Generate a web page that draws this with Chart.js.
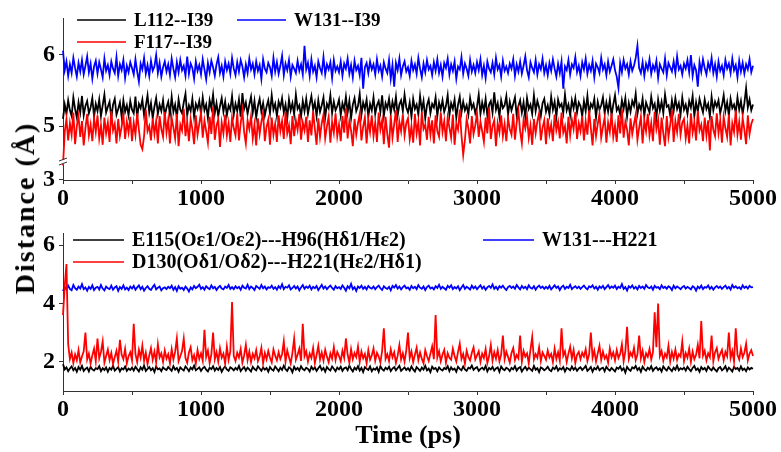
<!DOCTYPE html>
<html>
<head>
<meta charset="utf-8">
<script src="https://cdn.jsdelivr.net/npm/chart.js@4.4.1/dist/chart.umd.min.js"></script>
<style>
  html, body { margin: 0; padding: 0; background: #fff; }
  #wrap { position: relative; width: 781px; height: 452px; overflow: hidden; }
  .panel { position: absolute; left: 0; width: 781px; }
  #topPanel { top: 0; height: 215px; }
  #bottomPanel { top: 215px; height: 237px; }
  #yTitle {
    position: absolute; left: 25px; top: 208px;
    transform: translate(-50%, -50%) rotate(-90deg);
    font: bold 28px 'Liberation Serif', 'Times New Roman', serif;
    letter-spacing: 2px;
    white-space: nowrap; color: #000;
  }
</style>
</head>
<body>
<div id="wrap">
  <div class="panel" id="topPanel"><canvas id="topChart"></canvas></div>
  <div class="panel" id="bottomPanel"><canvas id="bottomChart"></canvas></div>
  <div id="yTitle">Distance (Å)</div>
</div>
<script>
const FONT = "'Liberation Serif', 'Times New Roman', serif";
const STEP_PS = 12.5;

const X_TICKS = [0, 500, 1000, 1500, 2000, 2500, 3000, 3500, 4000, 4500, 5000];
const X_TICK_LABELS = [0, 1000, 2000, 3000, 4000, 5000];
const TOP_Y_TICKS = [5, 6];
const TOP_Y_TICKS_LOW = [3];
const BOTTOM_Y_TICKS = [2, 4, 6];

const TOP_LABELS = ['L112--I39', 'F117--I39', 'W131--I39'];
const BOTTOM_LABELS = ['E115(Oε1/Oε2)---H96(Hδ1/Hε2)', 'D130(Oδ1/Oδ2)---H221(Hε2/Hδ1)', 'W131---H221'];

// top panel, one value every 12.5 ps
const L112_I39 = [
  5.10, 5.30, 5.17, 5.36, 5.22, 5.14, 5.40, 5.24, 5.12, 5.33, 5.19, 5.42, 5.15, 5.28, 5.35, 5.18, 5.26, 5.39, 5.13, 5.31,
  5.21, 5.37, 5.14, 5.29, 5.44, 5.19, 5.27, 5.34, 5.11, 5.30, 5.38, 5.16, 5.24, 5.33, 5.13, 5.36, 5.20, 5.29, 5.15, 5.35,
  5.23, 5.18, 5.41, 5.12, 5.31, 5.25, 5.37, 5.15, 5.28, 5.43, 5.19, 5.32, 5.11, 5.27, 5.39, 5.17, 5.30, 5.21, 5.36, 5.14,
  5.26, 5.34, 5.16, 5.41, 5.20, 5.30, 5.12, 5.37, 5.23, 5.18, 5.33, 5.45, 5.15, 5.29, 5.21, 5.38, 5.13, 5.31, 5.24, 5.35,
  5.17, 5.40, 5.22, 5.30, 5.11, 5.36, 5.25, 5.44, 5.18, 5.32, 5.14, 5.28, 5.39, 5.20, 5.34, 5.15, 5.29, 5.23, 5.42, 5.16,
  5.31, 5.21, 5.37, 5.13, 5.46, 5.24, 5.33, 5.17, 5.30, 5.41, 5.19, 5.35, 5.12, 5.28, 5.38, 5.20, 5.32, 5.15, 5.27, 5.36,
  5.18, 5.43, 5.23, 5.31, 5.14, 5.34, 5.26, 5.39, 5.19, 5.30, 5.11, 5.37, 5.22, 5.32, 5.16, 5.44, 5.24, 5.29, 5.13, 5.35,
  5.21, 5.38, 5.17, 5.30, 5.42, 5.23, 5.33, 5.14, 5.36, 5.20, 5.29, 5.40, 5.12, 5.31, 5.25, 5.43, 5.18, 5.34, 5.22, 5.28,
  5.37, 5.15, 5.32, 5.23, 5.41, 5.19, 5.35, 5.11, 5.30, 5.39, 5.21, 5.28, 5.45, 5.16, 5.33, 5.24, 5.37, 5.13, 5.31, 5.22,
  5.40, 5.17, 5.29, 5.35, 5.20, 5.43, 5.14, 5.32, 5.25, 5.38, 5.18, 5.34, 5.23, 5.41, 5.15, 5.30, 5.36, 5.21, 5.44, 5.26,
  5.19, 5.33, 5.13, 5.38, 5.24, 5.30, 5.16, 5.42, 5.22, 5.35, 5.11, 5.29, 5.37, 5.18, 5.31, 5.26, 5.40, 5.14, 5.33, 5.23,
  5.36, 5.20, 5.28, 5.43, 5.15, 5.32, 5.24, 5.37, 5.12, 5.30, 5.41, 5.19, 5.34, 5.22, 5.29, 5.16, 5.39, 5.25, 5.31, 5.18,
  5.27, 5.44, 5.17, 5.33, 5.21, 5.38, 5.14, 5.30, 5.35, 5.19, 5.47, 5.23, 5.32, 5.13, 5.36, 5.25, 5.29, 5.42, 5.16, 5.34,
  5.22, 5.31, 5.40, 5.15, 5.28, 5.36, 5.19, 5.33, 5.12, 5.39, 5.24, 5.30, 5.17, 5.43, 5.21, 5.35, 5.26, 5.14, 5.32, 5.38,
  5.20, 5.29, 5.16, 5.41, 5.23, 5.34, 5.13, 5.37, 5.27, 5.31, 5.18, 5.44, 5.22, 5.30, 5.15, 5.36, 5.25, 5.39, 5.19, 5.33,
  5.28, 5.14, 5.35, 5.21, 5.42, 5.17, 5.31, 5.26, 5.38, 5.12, 5.34, 5.23, 5.29, 5.40, 5.18, 5.33, 5.20, 5.37, 5.15, 5.30,
  5.43, 5.22, 5.27, 5.16, 5.36, 5.24, 5.39, 5.13, 5.32, 5.20, 5.35, 5.28, 5.45, 5.17, 5.30, 5.23, 5.38, 5.14, 5.33, 5.26,
  5.19, 5.41, 5.25, 5.31, 5.12, 5.37, 5.22, 5.34, 5.18, 5.44, 5.27, 5.29, 5.15, 5.36, 5.21, 5.39, 5.24, 5.32, 5.16, 5.40,
  5.23, 5.30, 5.17, 5.35, 5.26, 5.42, 5.14, 5.33, 5.20, 5.38, 5.28, 5.19, 5.37, 5.24, 5.31, 5.13, 5.41, 5.22, 5.34, 5.27,
  5.36, 5.18, 5.29, 5.43, 5.21, 5.33, 5.15, 5.38, 5.25, 5.30, 5.19, 5.40, 5.23, 5.35, 5.17, 5.32, 5.53, 5.26, 5.37, 5.22,
  5.30
];
const F117_I39 = [
  4.45, 4.92, 5.10, 4.80, 5.04, 4.88, 5.19, 4.75, 5.00, 5.14, 4.85, 5.07, 4.73, 4.97, 5.17, 4.87, 5.02, 4.79, 5.11, 4.92,
  5.15, 4.83, 5.01, 4.74, 5.12, 4.90, 5.05, 4.78, 5.21, 4.94, 5.03, 4.76, 5.10, 4.86, 4.99, 5.16, 4.82, 5.06, 4.91, 5.13,
  4.79, 5.05, 4.88, 5.18, 4.95, 4.74, 4.68, 4.86, 5.23, 4.93, 5.00, 4.80, 5.11, 4.89, 5.07, 4.76, 5.14, 4.96, 4.85, 5.20,
  4.91, 5.09, 4.76, 5.12, 4.98, 4.83, 5.17, 4.72, 5.02, 4.94, 5.24, 4.86, 5.06, 4.79, 5.10, 4.96, 4.75, 5.15, 4.88, 5.03,
  5.19, 4.84, 5.08, 4.93, 4.77, 5.13, 4.89, 5.27, 4.81, 5.01, 5.09, 4.71, 5.05, 4.90, 5.16, 4.87, 5.04, 4.78, 5.12, 4.97,
  4.87, 5.18, 4.80, 5.04, 5.22, 4.92, 4.76, 5.08, 4.96, 5.14, 4.83, 5.02, 4.73, 5.11, 4.89, 5.06, 5.19, 4.79, 4.99, 5.09,
  4.74, 5.12, 4.88, 5.03, 4.78, 5.15, 4.93, 5.07, 4.82, 5.20, 4.90, 5.01, 4.75, 5.14, 4.86, 5.08, 4.95, 5.17, 4.81, 5.05,
  4.94, 5.13, 4.78, 5.08, 4.87, 5.21, 4.96, 4.74, 5.11, 4.85, 5.04, 5.16, 4.83, 5.00, 5.13, 4.77, 5.06, 4.91, 5.18, 4.86,
  5.02, 4.79, 5.14, 4.91, 5.25, 4.83, 5.07, 4.94, 4.72, 5.10, 4.88, 5.04, 5.17, 4.80, 4.99, 5.12, 4.76, 5.09, 4.92, 5.15,
  4.86, 5.05, 4.78, 5.19, 4.95, 5.08, 4.75, 5.13, 4.89, 4.70, 5.15, 4.84, 5.03, 5.22, 4.78, 5.06, 4.93, 5.16, 4.87, 5.04,
  5.11, 4.82, 5.00, 4.77, 5.17, 4.90, 5.06, 4.73, 5.20, 4.96, 5.02, 4.81, 5.13, 4.88, 5.08, 4.76, 5.15, 4.93, 4.85, 5.19,
  4.92, 5.07, 4.79, 5.12, 4.98, 4.84, 5.16, 4.74, 5.03, 4.95, 5.23, 4.87, 4.60, 4.81, 5.10, 4.97, 4.76, 5.14, 4.89, 5.01,
  5.18, 4.85, 5.06, 4.93, 4.78, 5.12, 4.90, 5.26, 4.82, 5.00, 5.08, 4.72, 5.04, 4.91, 5.15, 4.86, 5.03, 4.79, 5.11, 4.96,
  4.88, 5.17, 4.81, 5.05, 5.21, 4.93, 4.76, 5.09, 4.97, 5.13, 4.84, 5.01, 4.74, 5.10, 4.90, 5.07, 5.18, 4.80, 4.98, 5.08,
  4.75, 5.11, 4.89, 5.02, 4.79, 5.16, 4.94, 5.06, 4.83, 5.19, 4.91, 5.00, 4.76, 5.13, 4.87, 5.09, 4.96, 5.20, 4.82, 5.04,
  4.93, 5.14, 4.80, 5.07, 4.88, 5.22, 4.97, 4.73, 5.10, 4.86, 5.03, 5.17, 4.84, 4.99, 5.12, 4.77, 5.05, 4.92, 5.18, 4.85,
  5.01, 4.78, 5.15, 4.90, 5.24, 4.84, 5.06, 4.95, 4.73, 5.11, 4.89, 5.03, 5.16, 4.81, 4.98, 5.13, 4.76, 5.08, 4.93, 5.17,
  4.87, 5.04, 4.79, 5.20, 4.96, 5.09, 4.74, 5.12, 4.90, 4.72, 5.14, 4.85, 5.02, 5.23, 4.78, 5.07, 4.92, 5.17, 4.88, 5.05,
  5.10, 4.83, 5.01, 4.76, 5.18, 4.91, 5.05, 4.80, 5.21, 4.94, 5.02, 4.79, 5.12, 4.87, 5.08, 4.66, 5.14, 4.95, 4.86, 5.18,
  4.90, 5.08, 4.77, 5.13, 4.97, 4.85, 5.16, 4.73, 5.04, 4.92, 5.22, 4.88, 5.06, 4.81, 5.11, 4.95, 4.75, 5.15, 4.89, 5.03,
  5.10
];
const W131_I39 = [
  6.05, 5.78, 5.90, 5.70, 5.86, 5.74, 5.95, 5.81, 5.69, 5.88, 5.76, 5.92, 5.72, 5.84, 5.97, 5.75, 5.87, 5.66, 5.83, 5.91,
  5.73, 5.89, 5.79, 5.68, 5.94, 5.77, 5.85, 5.71, 5.90, 5.80, 5.74, 5.96, 5.70, 5.86, 5.78, 5.92, 5.67, 5.84, 5.75, 5.89,
  5.81, 5.72, 5.93, 5.76, 5.62, 5.87, 5.79, 5.95, 5.73, 5.85, 5.70, 5.91, 5.77, 5.83, 5.99, 5.74, 5.88, 5.69, 5.82, 5.90,
  5.76, 5.86, 5.71, 5.94, 5.80, 5.68, 5.89, 5.75, 5.92, 5.78, 5.84, 5.70, 5.97, 5.73, 5.87, 5.81, 5.66, 5.90, 5.77, 5.85,
  5.72, 5.93, 5.79, 5.65, 5.88, 5.75, 5.91, 5.82, 5.70, 5.86, 5.96, 5.74, 5.84, 5.69, 5.90, 5.78, 5.87, 5.73, 5.95, 5.80,
  5.71, 5.89, 5.76, 5.92, 5.83, 5.68, 5.86, 5.74, 5.94, 5.79, 5.87, 5.72, 5.90, 5.77, 5.85, 5.66, 5.93, 5.80, 5.75, 5.88,
  5.82, 5.70, 5.95, 5.76, 5.89, 5.73, 5.84, 5.98, 5.71, 5.87, 5.78, 5.92, 5.69, 5.85, 5.80, 5.74, 5.91, 5.77, 5.86, 5.72,
  6.12, 5.79, 5.88, 5.70, 5.93, 5.76, 5.84, 5.68, 5.90, 5.81, 5.74, 5.96, 5.72, 5.86, 5.79, 5.89, 5.67, 5.92, 5.77, 5.83,
  5.75, 5.90, 5.70, 5.87, 5.80, 5.94, 5.73, 5.85, 5.68, 5.91, 5.78, 5.84, 5.71, 5.95, 5.52, 5.82, 5.88, 5.74, 5.90, 5.79,
  5.86, 5.72, 5.93, 5.77, 5.84, 5.69, 5.89, 5.80, 5.74, 5.92, 5.66, 5.85, 5.55, 5.88, 5.78, 5.94, 5.71, 5.83, 5.90, 5.76,
  5.82, 5.70, 5.91, 5.78, 5.86, 5.73, 5.95, 5.80, 5.68, 5.87, 5.75, 5.92, 5.79, 5.84, 5.71, 5.89, 5.77, 5.93, 5.74, 5.85,
  5.69, 5.88, 5.81, 5.94, 5.72, 5.86, 5.77, 5.90, 5.66, 5.83, 5.79, 5.96, 5.73, 5.87, 5.80, 5.70, 5.92, 5.76, 5.85, 5.74,
  5.89, 5.78, 5.93, 5.71, 5.84, 5.67, 5.90, 5.80, 5.75, 5.88, 5.72, 5.95, 5.79, 5.85, 5.69, 5.91, 5.77, 5.83, 5.74, 5.87,
  5.80, 5.93, 5.70, 5.86, 5.76, 5.90, 5.73, 5.84, 5.97, 5.78, 5.68, 5.89, 5.81, 5.75, 5.92, 5.72, 5.86, 5.79, 5.94, 5.74,
  5.85, 5.71, 5.88, 5.77, 5.93, 5.80, 5.69, 5.87, 5.74, 5.90, 5.52, 5.83, 5.78, 5.92, 5.72, 5.86, 5.81, 5.96, 5.75, 5.84,
  5.70, 5.89, 5.79, 5.94, 5.73, 5.85, 5.77, 5.91, 5.68, 5.87, 5.82, 5.74, 5.95, 5.79, 5.86, 5.71, 5.90, 5.76, 5.84, 5.93,
  5.78, 5.69, 5.53, 5.88, 5.75, 5.92, 5.80, 5.86, 5.72, 5.90, 5.77, 5.84, 5.95, 6.12, 5.81, 5.74, 5.89, 5.70, 5.87, 5.79,
  5.93, 5.73, 5.85, 5.78, 5.91, 5.67, 5.86, 5.80, 5.75, 5.94, 5.71, 5.88, 5.82, 5.76, 5.90, 5.74, 5.97, 5.79, 5.84, 5.72,
  5.87, 5.80, 5.92, 5.75, 5.99, 5.70, 5.85, 5.78, 5.55, 5.89, 5.76, 5.93, 5.81, 5.72, 5.88, 5.79, 5.95, 5.74, 5.86, 5.69,
  5.90, 5.77, 5.84, 5.71, 5.92, 5.80, 5.87, 5.74, 5.94, 5.78, 5.85, 5.68, 5.91, 5.76, 5.88, 5.73, 5.86, 5.79, 5.93, 5.75,
  5.84
];

// bottom panel, one value every 12.5 ps
const E115_H96 = [
  1.92, 1.74, 1.81, 1.68, 1.77, 1.84, 1.71, 1.79, 1.66, 1.82, 1.73, 1.86, 1.69, 1.76, 1.80, 1.67, 1.83, 1.74, 1.70, 1.78,
  1.75, 1.85, 1.68, 1.78, 1.72, 1.81, 1.66, 1.79, 1.73, 1.86, 1.70, 1.76, 1.82, 1.67, 1.78, 1.74, 1.84, 1.69, 1.77, 1.72,
  1.80, 1.70, 1.83, 1.75, 1.67, 1.81, 1.73, 1.87, 1.69, 1.76, 1.82, 1.71, 1.78, 1.65, 1.84, 1.74, 1.77, 1.68, 1.81, 1.75,
  1.72, 1.82, 1.76, 1.69, 1.85, 1.73, 1.79, 1.66, 1.81, 1.75, 1.70, 1.84, 1.77, 1.68, 1.80, 1.74, 1.87, 1.71, 1.76, 1.81,
  1.69, 1.78, 1.83, 1.73, 1.67, 1.80, 1.75, 1.85, 1.70, 1.79, 1.72, 1.82, 1.66, 1.77, 1.84, 1.74, 1.69, 1.81, 1.77, 1.71,
  1.79, 1.73, 1.86, 1.68, 1.76, 1.82, 1.70, 1.80, 1.74, 1.67, 1.83, 1.75, 1.71, 1.85, 1.77, 1.69, 1.81, 1.73, 1.79, 1.66,
  1.82, 1.74, 1.70, 1.84, 1.76, 1.68, 1.80, 1.72, 1.87, 1.75, 1.69, 1.81, 1.77, 1.64, 1.83, 1.73, 1.79, 1.70, 1.85, 1.75,
  1.71, 1.80, 1.76, 1.67, 1.83, 1.74, 1.81, 1.69, 1.78, 1.86, 1.72, 1.79, 1.66, 1.82, 1.75, 1.70, 1.84, 1.76, 1.68, 1.80,
  1.74, 1.83, 1.69, 1.78, 1.81, 1.71, 1.87, 1.75, 1.67, 1.80, 1.73, 1.85, 1.70, 1.79, 1.65, 1.82, 1.76, 1.72, 1.84, 1.68,
  1.77, 1.73, 1.81, 1.66, 1.85, 1.75, 1.70, 1.80, 1.74, 1.83, 1.68, 1.77, 1.82, 1.71, 1.79, 1.86, 1.69, 1.75, 1.81, 1.72,
  1.78, 1.70, 1.84, 1.74, 1.67, 1.82, 1.76, 1.69, 1.80, 1.73, 1.86, 1.71, 1.77, 1.65, 1.83, 1.75, 1.79, 1.68, 1.81, 1.74,
  1.70, 1.79, 1.75, 1.85, 1.68, 1.81, 1.73, 1.77, 1.66, 1.83, 1.76, 1.71, 1.84, 1.74, 1.69, 1.80, 1.77, 1.87, 1.72, 1.78,
  1.82, 1.69, 1.76, 1.80, 1.73, 1.86, 1.67, 1.79, 1.74, 1.83, 1.70, 1.77, 1.81, 1.66, 1.84, 1.75, 1.71, 1.80, 1.76, 1.68,
  1.79, 1.74, 1.85, 1.70, 1.78, 1.82, 1.67, 1.76, 1.83, 1.72, 1.80, 1.75, 1.69, 1.86, 1.73, 1.78, 1.65, 1.81, 1.77, 1.71,
  1.76, 1.83, 1.72, 1.68, 1.80, 1.75, 1.85, 1.70, 1.78, 1.74, 1.82, 1.67, 1.79, 1.76, 1.71, 1.84, 1.73, 1.80, 1.69, 1.77,
  1.81, 1.72, 1.78, 1.86, 1.69, 1.75, 1.82, 1.66, 1.79, 1.74, 1.84, 1.71, 1.77, 1.80, 1.68, 1.83, 1.75, 1.70, 1.79, 1.73,
  1.67, 1.80, 1.76, 1.84, 1.71, 1.78, 1.63, 1.82, 1.74, 1.69, 1.81, 1.77, 1.86, 1.72, 1.79, 1.66, 1.83, 1.75, 1.70, 1.80,
  1.74, 1.85, 1.69, 1.77, 1.81, 1.72, 1.78, 1.67, 1.84, 1.76, 1.70, 1.82, 1.75, 1.68, 1.80, 1.73, 1.87, 1.71, 1.78, 1.74,
  1.80, 1.70, 1.83, 1.75, 1.68, 1.79, 1.86, 1.72, 1.77, 1.66, 1.82, 1.74, 1.79, 1.69, 1.84, 1.76, 1.71, 1.81, 1.73, 1.67,
  1.78, 1.82, 1.71, 1.76, 1.85, 1.69, 1.80, 1.74, 1.67, 1.83, 1.75, 1.79, 1.70, 1.84, 1.72, 1.77, 1.68, 1.81, 1.74, 1.79,
  1.76
];
const D130_H221 = [
  3.60, 4.60, 5.35, 2.60, 2.10, 2.32, 1.96, 2.25, 2.05, 2.40, 1.98, 2.18, 2.36, 3.00, 2.08, 2.28, 1.94, 2.22, 2.45, 2.02,
  2.80, 2.12, 2.34, 2.70, 1.97, 2.20, 2.42, 2.06, 2.30, 1.93, 2.16, 2.38, 2.01, 2.75, 2.24, 2.09, 2.44, 1.95, 2.19, 2.33,
  2.05, 3.30, 2.27, 1.99, 2.41, 2.14, 2.55, 2.03, 2.31, 1.92, 2.21, 2.47, 2.07, 2.35, 1.98, 2.60, 2.15, 2.29, 2.00, 2.39,
  2.11, 2.26, 1.95, 2.43, 2.08, 2.34, 2.80, 2.02, 2.19, 2.37, 2.80, 2.13, 1.97, 2.32, 2.50, 2.06, 2.23, 1.94, 2.40, 2.10,
  2.29, 2.04, 3.10, 2.17, 2.38, 1.96, 2.25, 3.00, 2.09, 2.33, 2.01, 2.46, 2.14, 2.28, 1.93, 2.52, 2.07, 2.36, 4.05, 2.20,
  2.03, 2.31, 2.15, 2.44, 1.97, 2.22, 2.58, 2.06, 2.35, 1.99, 2.27, 2.12, 2.40, 2.02, 2.18, 2.48, 1.95, 2.30, 2.09, 2.37,
  2.14, 1.98, 2.42, 2.21, 2.05, 2.33, 2.10, 2.26, 2.70, 2.00, 2.39, 2.16, 1.94, 2.31, 2.80, 2.07, 2.24, 2.45, 2.03, 3.30,
  2.19, 2.36, 2.01, 2.28, 2.13, 2.47, 1.96, 2.23, 2.55, 2.08, 2.32, 2.04, 2.41, 2.17, 1.99, 2.29, 2.11, 2.50, 2.06, 2.34,
  2.20, 2.02, 2.38, 2.14, 2.80, 2.25, 1.97, 2.43, 2.09, 2.30, 2.16, 2.52, 2.00, 2.35, 2.12, 2.27, 1.95, 2.40, 2.07, 2.22,
  2.46, 2.04, 2.31, 2.18, 1.98, 2.37, 3.15, 2.10, 2.26, 2.03, 2.42, 2.15, 2.33, 1.96, 2.21, 2.57, 2.08, 2.29, 2.01, 2.39,
  3.00, 2.13, 2.35, 1.99, 2.24, 2.48, 2.06, 2.32, 2.11, 1.95, 2.40, 2.19, 2.03, 2.28, 2.53, 2.09, 3.60, 2.15, 2.36, 2.02,
  2.25, 2.41, 1.97, 2.30, 2.14, 2.07, 2.45, 2.20, 2.01, 2.34, 2.62, 2.10, 2.27, 1.94, 2.38, 2.16, 2.05, 2.31, 2.49, 2.08,
  2.22, 2.36, 2.00, 2.28, 2.13, 2.44, 1.96, 2.19, 2.58, 2.04, 2.33, 2.11, 2.40, 2.02, 2.25, 2.90, 2.09, 2.35, 2.17, 1.98,
  2.30, 2.47, 2.06, 2.23, 2.12, 2.90, 2.01, 2.37, 2.18, 2.29, 1.95, 2.42, 2.85, 2.08, 2.26, 2.14, 2.50, 2.03, 2.32, 2.20,
  2.07, 2.39, 2.15, 2.27, 1.99, 2.45, 2.10, 2.33, 2.04, 3.15, 2.21, 2.36, 2.00, 2.28, 2.52, 2.12, 2.41, 1.96, 2.24, 2.34,
  2.09, 2.31, 2.18, 2.43, 2.03, 2.26, 3.00, 2.14, 2.38, 2.01, 2.29, 2.55, 2.07, 2.35, 2.11, 2.22, 1.97, 2.46, 2.16, 2.32,
  2.05, 2.40, 2.13, 2.27, 2.60, 2.02, 2.36, 3.20, 2.10, 2.31, 2.19, 2.48, 2.06, 2.25, 2.90, 2.12, 2.38, 2.00, 2.29, 2.17,
  2.44, 2.08, 2.33, 3.70, 2.50, 4.00, 2.20, 2.37, 2.04, 2.28, 2.15, 2.55, 2.01, 2.34, 2.11, 2.42, 2.07, 2.26, 2.18, 2.70,
  2.03, 2.30, 2.14, 2.45, 2.00, 2.35, 2.09, 2.24, 2.58, 2.12, 3.40, 2.21, 2.38, 2.05, 2.29, 2.16, 2.90, 2.02, 2.33, 2.47,
  2.10, 2.27, 2.41, 2.06, 2.34, 2.19, 3.00, 2.13, 2.37, 2.01, 3.15, 2.24, 2.08, 2.46, 2.16, 2.31, 2.62, 2.05, 2.28, 2.40,
  2.20
];
const W131_H221 = [
  4.42, 4.56, 4.48, 4.61, 4.50, 4.45, 4.63, 4.52, 4.47, 4.58, 4.51, 4.66, 4.49, 4.55, 4.44, 4.57, 4.50, 4.62, 4.46, 4.54,
  4.57, 4.48, 4.63, 4.51, 4.45, 4.58, 4.52, 4.49, 4.61, 4.47, 4.55, 4.59, 4.43, 4.56, 4.50, 4.62, 4.48, 4.54, 4.46, 4.58,
  4.51, 4.60, 4.47, 4.55, 4.62, 4.49, 4.57, 4.44, 4.53, 4.59, 4.50, 4.46, 4.56, 4.64, 4.48, 4.54, 4.58, 4.45, 4.52, 4.55,
  4.49, 4.57, 4.52, 4.61, 4.47, 4.56, 4.43, 4.59, 4.50, 4.54, 4.46, 4.58, 4.51, 4.41, 4.55, 4.48, 4.60, 4.52, 4.57, 4.64,
  4.50, 4.56, 4.47, 4.59, 4.53, 4.49, 4.62, 4.52, 4.57, 4.46, 4.55, 4.60, 4.51, 4.48, 4.58, 4.53, 4.63, 4.50, 4.56, 4.49,
  4.59, 4.52, 4.57, 4.47, 4.61, 4.54, 4.51, 4.64, 4.49, 4.58, 4.53, 4.46, 4.60, 4.55, 4.50, 4.63, 4.52, 4.58, 4.48, 4.56,
  4.53, 4.61, 4.50, 4.56, 4.47, 4.59, 4.52, 4.66, 4.49, 4.57, 4.54, 4.62, 4.48, 4.53, 4.60, 4.51, 4.58, 4.45, 4.55, 4.63,
  4.50, 4.58, 4.53, 4.61, 4.48, 4.57, 4.52, 4.60, 4.46, 4.55, 4.64, 4.51, 4.58, 4.49, 4.56, 4.61, 4.53, 4.47, 4.59, 4.52,
  4.56, 4.50, 4.62, 4.54, 4.44, 4.59, 4.52, 4.67, 4.49, 4.56, 4.43, 4.58, 4.53, 4.61, 4.50, 4.57, 4.48, 4.60, 4.54, 4.51,
  4.58, 4.49, 4.56, 4.61, 4.52, 4.46, 4.59, 4.53, 4.50, 4.57, 4.45, 4.60, 4.54, 4.63, 4.51, 4.58, 4.48, 4.56, 4.61, 4.52,
  4.55, 4.47, 4.60, 4.52, 4.57, 4.49, 4.63, 4.54, 4.50, 4.58, 4.46, 4.56, 4.61, 4.51, 4.55, 4.48, 4.59, 4.53, 4.64, 4.50,
  4.57, 4.52, 4.47, 4.60, 4.54, 4.62, 4.49, 4.56, 4.51, 4.59, 4.46, 4.55, 4.63, 4.50, 4.57, 4.53, 4.48, 4.61, 4.52, 4.58,
  4.49, 4.56, 4.62, 4.51, 4.58, 4.47, 4.55, 4.60, 4.53, 4.65, 4.50, 4.57, 4.48, 4.59, 4.54, 4.61, 4.52, 4.46, 4.56, 4.60,
  4.53, 4.58, 4.50, 4.63, 4.55, 4.48, 4.60, 4.52, 4.57, 4.49, 4.62, 4.54, 4.51, 4.59, 4.47, 4.56, 4.61, 4.53, 4.58, 4.50,
  4.57, 4.51, 4.60, 4.48, 4.55, 4.62, 4.53, 4.58, 4.46, 4.56, 4.61, 4.50, 4.57, 4.53, 4.64, 4.49, 4.55, 4.59, 4.52, 4.58,
  4.50, 4.56, 4.61, 4.53, 4.48, 4.59, 4.55, 4.62, 4.51, 4.57, 4.47, 4.58, 4.53, 4.60, 4.49, 4.56, 4.63, 4.52, 4.58, 4.54,
  4.61, 4.49, 4.57, 4.53, 4.66, 4.50, 4.56, 4.44, 4.59, 4.54, 4.62, 4.51, 4.57, 4.48, 4.60, 4.53, 4.58, 4.50, 4.63, 4.55,
  4.52, 4.58, 4.47, 4.60, 4.54, 4.56, 4.49, 4.62, 4.53, 4.57, 4.50, 4.59, 4.55, 4.46, 4.61, 4.52, 4.58, 4.54, 4.49, 4.56,
  4.60, 4.51, 4.57, 4.53, 4.48, 4.59, 4.55, 4.44, 4.58, 4.52, 4.61, 4.49, 4.56, 4.54, 4.62, 4.50, 4.57, 4.47, 4.55, 4.60,
  4.53, 4.58, 4.50, 4.56, 4.61, 4.51, 4.57, 4.48, 4.63, 4.54, 4.59, 4.52, 4.56, 4.49, 4.62, 4.53, 4.58, 4.51, 4.60, 4.55,
  4.56
];

const BLACK = '#000000';
const RED = '#ff0000';
const BLUE = '#0000ff';

Chart.defaults.font.family = FONT;
Chart.defaults.font.weight = 'bold';
Chart.defaults.color = '#000';

function toPoints(values) {
  return values.map((y, i) => ({ x: i * STEP_PS, y }));
}

function series(label, values, color, order) {
  return {
    label,
    data: toPoints(values),
    borderColor: color,
    backgroundColor: color,
    borderWidth: 1.8,
    pointRadius: 0,
    tension: 0,
    order,
    yAxisID: 'y',
    clip: false
  };
}

const insideLegend = {
  id: 'insideLegend',
  afterDraw(chart, args, opts) {
    const { ctx } = chart;
    ctx.save();
    ctx.font = `bold ${opts.fontSize}px ${FONT}`;
    ctx.textBaseline = 'middle';
    opts.items.forEach((item) => {
      const ds = chart.data.datasets[item.dataset];
      ctx.strokeStyle = ds.borderColor;
      ctx.lineWidth = 1.5;
      ctx.beginPath();
      ctx.moveTo(item.x, item.y);
      ctx.lineTo(item.x + opts.lineLength, item.y);
      ctx.stroke();
      ctx.fillStyle = '#000';
      ctx.fillText(ds.label, item.x + opts.lineLength + opts.gap, item.y + 1);
    });
    ctx.restore();
  }
};

// the little "//" mark where the top panel's y axis jumps from 3 to 4.5
const axisBreak = {
  id: 'axisBreak',
  afterDraw(chart) {
    const { ctx } = chart;
    const x = chart.chartArea.left;
    const y = chart.scales.yLow.top;
    ctx.save();
    ctx.fillStyle = '#fff';
    ctx.fillRect(x - 2, y - 2, 4, 4);
    ctx.strokeStyle = '#333';
    ctx.lineWidth = 1;
    ctx.beginPath();
    ctx.moveTo(x - 4, y - 1);
    ctx.lineTo(x + 4, y - 4);
    ctx.moveTo(x - 4, y + 3);
    ctx.lineTo(x + 4, y);
    ctx.stroke();
    ctx.restore();
  }
};

function timeAxis(height, withTitle) {
  return {
    type: 'linear',
    min: 0,
    max: 5000,
    afterBuildTicks: (s) => { s.ticks = X_TICKS.map((value) => ({ value })); },
    afterFit: (s) => { s.height = height; },
    ticks: {
      autoSkip: false,
      maxRotation: 0,
      padding: 0,
      font: { size: 24, weight: 'bold' },
      callback: (v) => (X_TICK_LABELS.includes(v) ? String(v) : '')
    },
    grid: { drawOnChartArea: false, tickLength: 4, color: '#333', lineWidth: 1 },
    border: { color: '#333', width: 1 },
    title: {
      display: withTitle,
      text: 'Time (ps)',
      font: { size: 26, weight: 'bold' },
      padding: { top: 0, bottom: 0 }
    }
  };
}

function valueAxis(min, max, ticks, extra) {
  return Object.assign({
    type: 'linear',
    position: 'left',
    min,
    max,
    afterBuildTicks: (s) => { s.ticks = ticks.map((value) => ({ value })); },
    afterFit: (s) => { s.width = 63; },
    ticks: { padding: 4, font: { size: 24, weight: 'bold' } },
    grid: { drawOnChartArea: false, tickLength: 4, color: '#333', lineWidth: 1 },
    border: { color: '#333', width: 1 }
  }, extra);
}

const baseOptions = {
  responsive: true,
  maintainAspectRatio: false,
  animation: false,
  events: []
};

new Chart(document.getElementById('topChart'), {
  type: 'line',
  data: {
    datasets: [
      series(TOP_LABELS[0], L112_I39, BLACK, 1),
      series(TOP_LABELS[1], F117_I39, RED, 0),
      series(TOP_LABELS[2], W131_I39, BLUE, 2)
    ]
  },
  options: {
    ...baseOptions,
    layout: { padding: { left: 0, top: 17, right: 28, bottom: 0 } },
    plugins: {
      legend: { display: false },
      tooltip: { enabled: false },
      insideLegend: {
        fontSize: 19,
        lineLength: 49,
        gap: 8,
        items: [
          { dataset: 0, x: 77, y: 20 },
          { dataset: 1, x: 77, y: 42 },
          { dataset: 2, x: 237, y: 20 }
        ]
      }
    },
    scales: {
      x: timeAxis(35, false),
      yLow: valueAxis(3, 3.25, TOP_Y_TICKS_LOW, { stack: 'left', stackWeight: 1 }),
      y: valueAxis(4.5, 6.5, TOP_Y_TICKS, { stack: 'left', stackWeight: 8 })
    }
  },
  plugins: [insideLegend, axisBreak]
});

new Chart(document.getElementById('bottomChart'), {
  type: 'line',
  data: {
    datasets: [
      series(BOTTOM_LABELS[0], E115_H96, BLACK, 1),
      series(BOTTOM_LABELS[1], D130_H221, RED, 0),
      series(BOTTOM_LABELS[2], W131_H221, BLUE, 2)
    ]
  },
  options: {
    ...baseOptions,
    layout: { padding: { left: 0, top: 16, right: 28, bottom: 0 } },
    plugins: {
      legend: { display: false },
      tooltip: { enabled: false },
      insideLegend: {
        fontSize: 20,
        lineLength: 51,
        gap: 8,
        items: [
          { dataset: 0, x: 73, y: 25 },
          { dataset: 1, x: 73, y: 47 },
          { dataset: 2, x: 483, y: 25 }
        ]
      }
    },
    scales: {
      x: timeAxis(61, true),
      y: valueAxis(1, 6.4, BOTTOM_Y_TICKS, {})
    }
  },
  plugins: [insideLegend]
});
</script>
</body>
</html>
